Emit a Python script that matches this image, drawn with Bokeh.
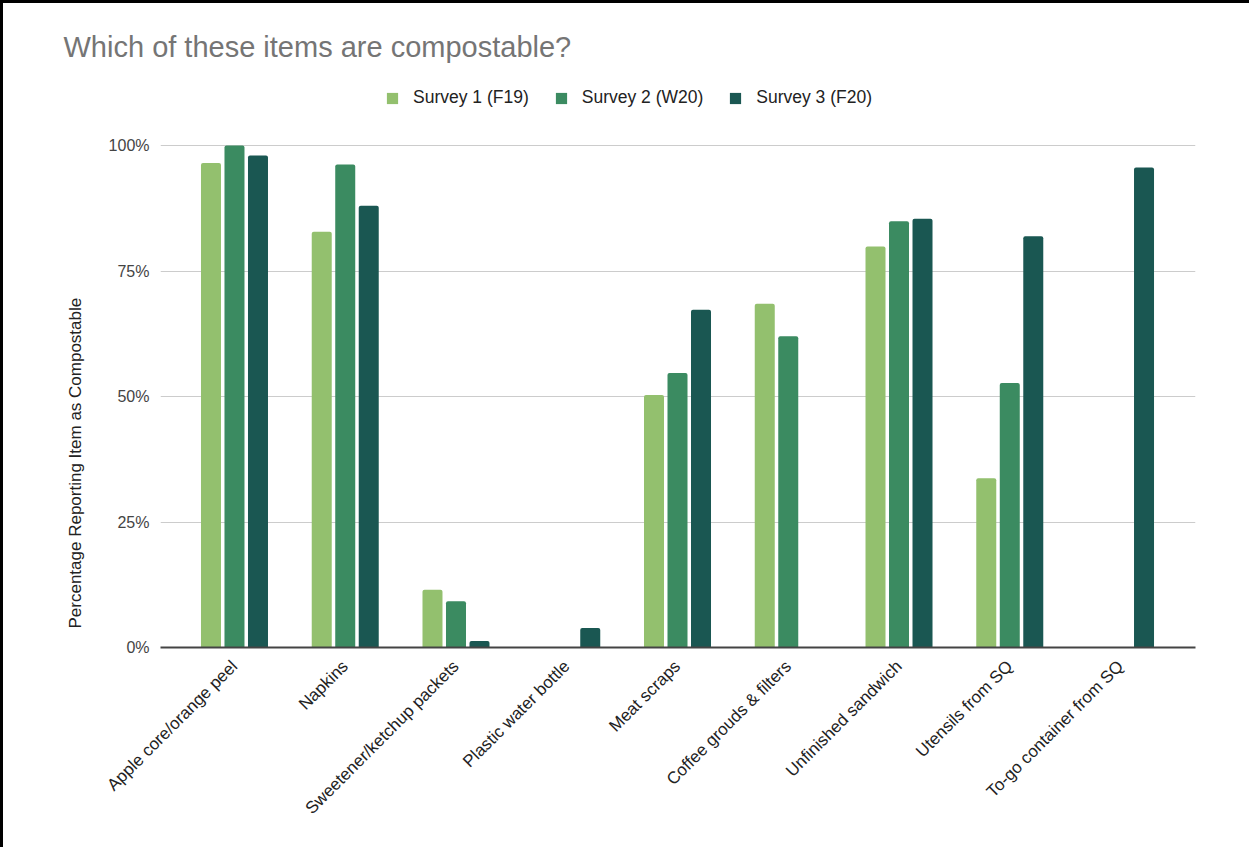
import math
from bokeh.plotting import figure
from bokeh.layouts import column
from bokeh.models import (ColumnDataSource, Range1d, FixedTicker, Legend,
                          LegendItem, Title)
from bokeh.transform import dodge
from bokeh.embed import file_html
from bokeh.resources import INLINE

categories = ["Apple core/orange peel", "Napkins", "Sweetener/ketchup packets",
              "Plastic water bottle", "Meat scraps", "Coffee grouds & filters",
              "Unfinished sandwich", "Utensils from SQ", "To-go container from SQ"]
nan = float("nan")
survey1 = [96.5, 82.8, 11.5, nan, 50.3, 68.5, 79.9, 33.7, nan]
survey2 = [100.0, 96.2, 9.2, nan, 54.7, 62.0, 84.9, 52.7, nan]
survey3 = [98.0, 88.0, 1.3, 3.9, 67.3, nan, 85.4, 81.9, 95.6]
series_names = ["Survey 1 (F19)", "Survey 2 (W20)", "Survey 3 (F20)"]
colors = ["#93c06e", "#3b8b61", "#1a5752"]
y_ticks = [0, 25, 50, 75, 100]

idx = list(range(len(categories)))
src = ColumnDataSource(dict(x=idx, s1=survey1, s2=survey2, s3=survey3))

FONT = "Liberation Sans"

# frame extends above 100% to host the legend (502 px per 100 %)
FRAME_H = 567
p = figure(width=1246, height=844, output_backend="svg", toolbar_location=None,
           title=None,
           x_range=Range1d(-0.668, len(categories) - 1 + 0.677),
           y_range=Range1d(0, 100 * FRAME_H / 502))
p.frame_width = 1035
p.frame_height = FRAME_H
p.min_border_left = 157
p.min_border_right = 54
p.min_border_top = 77
p.min_border_bottom = 200
p.outline_line_color = None
p.background_fill_color = "white"
p.border_fill_color = "white"

bw = 0.1806
off = 0.2122
renderers = []
for col, o, c in zip(["s1", "s2", "s3"], [-off, 0, off], colors):
    r = p.vbar(x=dodge("x", o, range=p.x_range), top=col, width=bw, source=src,
               fill_color=c, line_color=None, border_radius=[2, 2, 0, 0])
    renderers.append(r)

# axes
p.xaxis.ticker = FixedTicker(ticks=idx)
p.xaxis.major_label_overrides = {i: c for i, c in enumerate(categories)}
p.xaxis.major_label_orientation = math.pi / 4
p.xaxis.major_label_text_font = FONT
p.xaxis.major_label_text_font_size = "17px"
p.xaxis.major_label_text_color = "#222222"
p.xaxis.major_tick_line_color = None
p.xaxis.minor_tick_line_color = None
p.xaxis.axis_line_color = "#444444"
p.xaxis.axis_line_width = 2
p.xaxis.major_label_standoff = 10

p.yaxis.ticker = FixedTicker(ticks=y_ticks)
p.yaxis.major_label_overrides = {t: f"{t}%" for t in y_ticks}
p.yaxis.major_label_text_font = FONT
p.yaxis.major_label_text_font_size = "16px"
p.yaxis.major_label_text_color = "#444444"
p.yaxis.major_tick_line_color = None
p.yaxis.minor_tick_line_color = None
p.yaxis.axis_line_color = None
p.yaxis.major_label_standoff = 5

p.xgrid.grid_line_color = None
p.ygrid.grid_line_color = "#cccccc"
p.ygrid.grid_line_width = 1

# y axis title as a side title
p.add_layout(Title(text="Percentage Reporting Item as Compostable", align="left",
                   offset=19, standoff=42, text_font=FONT, text_font_size="17px",
                   text_font_style="normal", text_color="#222222"), "left")

legend = Legend(items=[LegendItem(label=n, renderers=[r]) for n, r in zip(series_names, renderers)],
                orientation="horizontal", location=(225, 539),
                glyph_width=14, glyph_height=14, label_standoff=14, spacing=25,
                padding=0, margin=0, border_line_color=None, background_fill_alpha=0,
                label_text_font=FONT, label_text_font_size="17.5px",
                label_text_color="#222222", label_height=20)
p.add_layout(legend, "center")

p.add_layout(Title(text="Which of these items are compostable?", align="left",
                   offset=-97, standoff=36, text_font=FONT, text_font_size="29px",
                   text_font_style="normal", text_color="#757575"), "above")

layout = column(p, styles={"border-top": "3px solid black",
                           "border-left": "3px solid black"})

open("out.html", "w").write(file_html(layout, INLINE))
